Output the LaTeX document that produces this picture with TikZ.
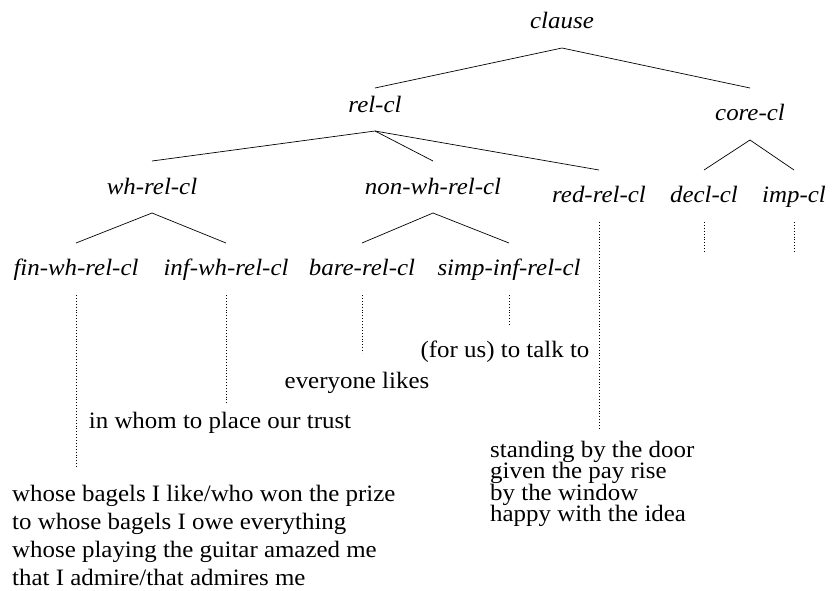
\documentclass[tikz,border=0pt]{standalone}
\usepackage{fontspec}
\setmainfont{Liberation Serif}[FakeStretch=1.06]
\usetikzlibrary{calc}
\begin{document}
\begin{tikzpicture}[x=1pt,y=-1pt,
  lab/.style={font=\fontsize{23.5}{28}\selectfont\itshape, inner sep=0pt, anchor=base},
  ex/.style={font=\fontsize{23.5}{28}\selectfont, inner sep=0pt},
  edge/.style={line width=0.7pt},
  dots/.style={line width=0.7pt, dash pattern=on 0.7pt off 2.2pt}]
\useasboundingbox (0,0) rectangle (832,590);
% tree labels
\node[lab] (clause) at (562,28) {clause};
\node[lab] (relcl) at (375,112) {rel-cl};
\node[lab] (corecl) at (750,120) {core-cl};
\node[lab] (whrel) at (152,194) {wh-rel-cl};
\node[lab] (nonwh) at (433,194) {non-wh-rel-cl};
\node[lab] (redrel) at (599,202) {red-rel-cl};
\node[lab] (decl) at (704,202) {decl-cl};
\node[lab] (imp) at (794,202) {imp-cl};
\node[lab] (finwh) at (76,275) {fin-wh-rel-cl};
\node[lab] (infwh) at (226,275) {inf-wh-rel-cl};
\node[lab] (bare) at (362,275) {bare-rel-cl};
\node[lab] (simp) at (509,275) {simp-inf-rel-cl};
% edges
\draw[edge] ([yshift=24pt]relcl.base) -- ([yshift=-20pt]clause.base) -- ([yshift=32pt]corecl.base);
\draw[edge] ([yshift=33pt]whrel.base) -- ([yshift=-19pt]relcl.base) -- ([yshift=32pt]redrel.base);
\draw[edge] ([yshift=-19pt]relcl.base) -- ([yshift=33pt]nonwh.base);
\draw[edge] ([yshift=32pt]decl.base) -- ([yshift=-20pt]corecl.base) -- ([yshift=32pt]imp.base);
\draw[edge] ([yshift=32pt]finwh.base) -- ([yshift=-19pt]whrel.base) -- ([yshift=32pt]infwh.base);
\draw[edge] ([yshift=32pt]bare.base) -- ([yshift=-19pt]nonwh.base) -- ([yshift=32pt]simp.base);
% examples
\node[ex, anchor=base] (forus) at (505,357) {(for us) to talk to};
\node[ex, anchor=base] (everyone) at (357,388) {everyone likes};
\node[ex, anchor=base] (inwhom) at (220,428) {in whom to place our trust};
\node[ex, anchor=base west, align=left, font=\fontsize{23.5}{21.5}\selectfont] (redex) at (490,521.5)
  {standing by the door\\given the pay rise\\by the window\\happy with the idea};
\node[ex, anchor=base west, align=left] (finex) at (12,585)
  {whose bagels I like/who won the prize\\to whose bagels I owe everything\\whose playing the guitar amazed me\\that I admire/that admires me};
% dotted links
\draw[dots] ([yshift=-20pt]finwh.base) -- ($(finwh.base |- finex.base)+(0,-117)$);
\draw[dots] ([yshift=-20pt]infwh.base) -- ($(infwh.base |- inwhom.base)+(0,-23)$);
\draw[dots] ([yshift=-20pt]bare.base) -- ($(bare.base |- everyone.base)+(0,-35)$);
\draw[dots] ([yshift=-20pt]simp.base) -- ($(simp.base |- forus.base)+(0,-32)$);
\draw[dots] ([yshift=-20pt]redrel.base) -- ($(redrel.base |- redex.base)+(0,-93.5)$);
\draw[dots] ([yshift=-20pt]decl.base) -- ([yshift=-50pt]decl.base);
\draw[dots] ([yshift=-20pt]imp.base) -- ([yshift=-50pt]imp.base);
\end{tikzpicture}
\end{document}
